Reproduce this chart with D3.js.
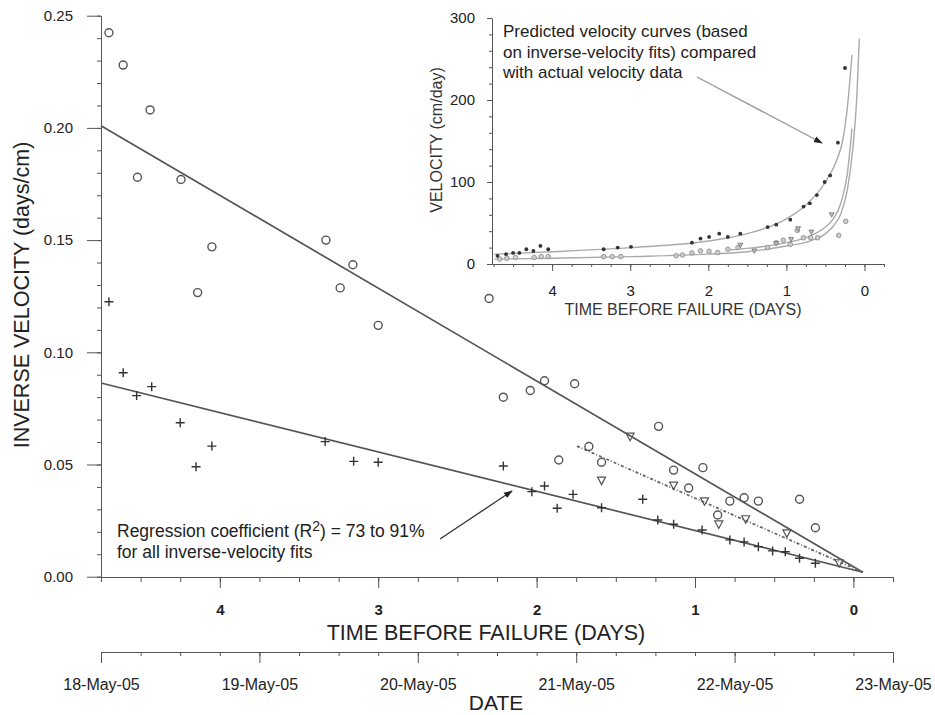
<!DOCTYPE html>
<html>
<head>
<meta charset="utf-8">
<script src="https://cdn.jsdelivr.net/npm/d3@7"></script>
<style>
  body { margin: 0; background: #fff; }
  svg { font-family: "Liberation Sans", Arial, sans-serif; }
  .axis path, .axis line { stroke: #555; }
  .axis text { fill: #222; }
</style>
</head>
<body>
<div id="chart"></div>
<script>
// ---- main chart data (days before failure, inverse velocity in days/cm)
const circleDays = [4.70, 4.61, 4.44, 4.52, 4.245, 4.05, 4.14, 3.33, 3.16, 3.24, 3.00, 2.30, 2.21, 2.04, 1.95, 1.76, 1.86, 1.67, 1.59, 1.23, 1.135, 0.95, 1.04, 0.857, 0.78, 0.69, 0.60, 0.34, 0.24];
const circleInv  = [0.2424, 0.228, 0.208, 0.178, 0.177, 0.147, 0.1266, 0.150, 0.139, 0.1287, 0.112, 0.124, 0.080, 0.083, 0.0873, 0.086, 0.052, 0.058, 0.051, 0.067, 0.0475, 0.0486, 0.0395, 0.0275, 0.0337, 0.0352, 0.0337, 0.0345, 0.0218];

const crossDays = [4.70, 4.61, 4.525, 4.43, 4.25, 4.05, 4.15, 3.335, 3.155, 3.00, 2.21, 2.03, 1.95, 1.87, 1.77, 1.59, 1.33, 1.235, 1.135, 0.955, 0.78, 0.69, 0.60, 0.51, 0.43, 0.34, 0.24];
const crossInv  = [0.1225, 0.0909, 0.0807, 0.0847, 0.0686, 0.0582, 0.049, 0.0602, 0.0514, 0.051, 0.0493, 0.0379, 0.0404, 0.0305, 0.0367, 0.0307, 0.0345, 0.0253, 0.0234, 0.0208, 0.0164, 0.0155, 0.0134, 0.0115, 0.0111, 0.0082, 0.006];

const triDays = [1.41, 1.59, 1.135, 0.94, 0.85, 0.68, 0.42, 0.09];
const triInv  = [0.0624, 0.0428, 0.0406, 0.0336, 0.0233, 0.0256, 0.0193, 0.006];

// regression lines (end points)
const fitCircleDays = [4.75, -0.06], fitCircleInv = [0.201, 0.002];
const fitCrossDays  = [4.75, -0.06], fitCrossInv  = [0.0863, 0.002];
const fitTriDays    = [1.745, -0.06], fitTriInv   = [0.0582, 0.002];

const dayTicks = [4, 3, 2, 1, 0];
const invTicks = [0, 0.05, 0.10, 0.15, 0.20, 0.25];
const dateStart = new Date(2005, 4, 18), dateEnd = new Date(2005, 4, 23);

// ---- inset data (velocity, cm/day)
const inDarkDays = [4.70, 4.59, 4.50, 4.42, 4.33, 4.24, 4.15, 4.05, 3.34, 3.16, 2.99, 2.21, 2.10, 1.99, 1.86, 1.75, 1.59, 1.24, 1.13, 0.95, 0.78, 0.70, 0.61, 0.51, 0.44, 0.34, 0.25];
const inDarkVel  = [10, 12, 13.5, 13.5, 18, 16, 22, 18, 18, 20, 21, 26, 31, 33, 37, 33, 37, 45, 48, 54, 70, 74, 84, 100, 108, 148, 239];

const inGreyDays = [4.67, 4.58, 4.47, 4.23, 4.14, 4.05, 3.34, 3.23, 3.12, 2.41, 2.33, 2.21, 2.10, 1.99, 1.88, 1.75, 1.62, 1.24, 1.13, 1.04, 0.95, 0.86, 0.78, 0.69, 0.60, 0.33, 0.24];
const inGreyVel  = [6, 7, 8, 8, 9, 9, 9, 9, 9, 10, 11, 13.5, 16, 15.5, 14, 18, 20, 20, 26, 29, 24, 41, 32, 32, 32, 35, 52];

const inTriDays = [1.59, 1.41, 1.13, 0.94, 0.85, 0.68, 0.42];
const inTriVel  = [23, 16, 25, 30, 43, 39, 60];

const curveTopDays = [4.74, 4.0, 3.0, 2.0, 1.5, 1.0, 0.75, 0.5, 0.35, 0.28, 0.22, 0.16];
const curveTopVel  = [12, 15, 20, 28, 37, 55, 72, 100, 128, 150, 190, 255];
const curveLowDays = [4.74, 4.0, 3.0, 2.0, 1.5, 1.0, 0.7, 0.5, 0.4, 0.3, 0.22, 0.15, 0.1, 0.066];
const curveLowVel  = [6, 7, 9, 12, 15, 22, 28, 37, 46, 62, 90, 140, 200, 275];
const curveMidDays = [1.75, 1.5, 1.0, 0.7, 0.5, 0.4, 0.3, 0.22, 0.16];
const curveMidVel  = [17, 19, 26, 34, 45, 55, 75, 110, 165];

const velTicks = [0, 100, 200, 300];

const W = 935, H = 715;
const svg = d3.select("#chart").append("svg").attr("width", W).attr("height", H);

svg.append("defs").append("marker")
  .attr("id", "head").attr("viewBox", "0 0 10 10").attr("refX", 9).attr("refY", 5)
  .attr("markerWidth", 9).attr("markerHeight", 9).attr("markerUnits", "userSpaceOnUse")
  .attr("orient", "auto")
  .append("path").attr("d", "M0,1.5L10,5L0,8.5Z").attr("fill", "#222");

// ---- main scales
const x = d3.scaleLinear().domain([4.75, -0.25]).range([101, 893]);
const y = d3.scaleLinear().domain([0, 0.25]).range([576.7, 15.7]);
const xDate = d3.scaleTime().domain([dateStart, dateEnd]).range([101, 893]);

// y axis
svg.append("g").attr("class", "axis").attr("transform", "translate(101,0)")
  .call(d3.axisLeft(y).tickValues(d3.range(0, 0.2501, 0.01)).tickSize(4).tickFormat(""))
  .call(g => g.select(".domain").remove());
svg.append("g").attr("class", "axis").attr("transform", "translate(101,0)")
  .call(d3.axisLeft(y).tickValues(invTicks).tickSize(14).tickSizeOuter(0).tickPadding(14).tickFormat(d3.format(".2f")))
  .call(g => g.selectAll("text").attr("font-size", 15));

// time axis
svg.append("g").attr("class", "axis").attr("transform", "translate(0,577)")
  .call(d3.axisBottom(x).tickValues(d3.range(-0.25, 4.76, 0.25)).tickSize(5).tickSizeOuter(0).tickFormat(""));
svg.append("g").attr("class", "axis").attr("transform", "translate(0,577)")
  .call(d3.axisBottom(x).tickValues(dayTicks).tickSize(11).tickPadding(16).tickFormat(d3.format("d")))
  .call(g => g.select(".domain").remove())
  .call(g => g.selectAll("text").attr("font-size", 15).attr("font-weight", "bold"));

// date axis
svg.append("g").attr("class", "axis").attr("transform", "translate(0,652)")
  .call(d3.axisBottom(xDate).ticks(d3.timeHour.every(6)).tickSize(4).tickSizeOuter(0).tickFormat(""));
svg.append("g").attr("class", "axis").attr("transform", "translate(0,652)")
  .call(d3.axisBottom(xDate).ticks(d3.timeDay.every(1)).tickSize(11).tickPadding(16).tickFormat(d3.timeFormat("%d-%b-%y")))
  .call(g => g.select(".domain").remove())
  .call(g => g.selectAll("text").attr("font-size", 16));

// axis titles
svg.append("text").attr("transform", "translate(29,295) rotate(-90)")
  .attr("text-anchor", "middle").attr("font-size", 21.5).attr("fill", "#222")
  .text("INVERSE VELOCITY (days/cm)");
svg.append("text").attr("x", 486).attr("y", 640).attr("text-anchor", "middle")
  .attr("font-size", 21.5).attr("fill", "#222").text("TIME BEFORE FAILURE (DAYS)");
svg.append("text").attr("x", 496).attr("y", 710).attr("text-anchor", "middle")
  .attr("font-size", 21).attr("fill", "#222").text("DATE");

// regression lines
const fitLine = (days, inv) => d3.line().x(d => x(d[0])).y(d => y(d[1]))(d3.zip(days, inv));
svg.append("path").attr("d", fitLine(fitCircleDays, fitCircleInv)).attr("stroke", "#555").attr("stroke-width", 1.7).attr("fill", "none");
svg.append("path").attr("d", fitLine(fitCrossDays, fitCrossInv)).attr("stroke", "#555").attr("stroke-width", 1.7).attr("fill", "none");
svg.append("path").attr("d", fitLine(fitTriDays, fitTriInv)).attr("stroke", "#666").attr("stroke-width", 1.8)
  .attr("stroke-dasharray", "3,2,1,2").attr("fill", "none");

// markers
svg.append("g").selectAll("circle").data(d3.zip(circleDays, circleInv)).join("circle")
  .attr("cx", d => x(d[0])).attr("cy", d => y(d[1])).attr("r", 4)
  .attr("fill", "none").attr("stroke", "#555").attr("stroke-width", 1.4);

svg.append("g").selectAll("path").data(d3.zip(crossDays, crossInv)).join("path")
  .attr("transform", d => `translate(${x(d[0])},${y(d[1])})`)
  .attr("d", "M-4.5,0H4.5M0,-4.5V4.5").attr("stroke", "#333").attr("stroke-width", 1.4);

svg.append("g").selectAll("path").data(d3.zip(triDays, triInv)).join("path")
  .attr("transform", d => `translate(${x(d[0])},${y(d[1])})`)
  .attr("d", "M-4,-3.5H4L0,4Z").attr("fill", "none").attr("stroke", "#555").attr("stroke-width", 1.2);

// annotation
svg.append("text").attr("x", 117).attr("y", 537).attr("font-size", 17.5).attr("fill", "#222")
  .call(t => {
    t.append("tspan").text("Regression coefficient (R");
    t.append("tspan").attr("dy", -6).attr("font-size", 14).text("2");
    t.append("tspan").attr("dy", 6).text(") = 73 to 91%");
  });
svg.append("text").attr("x", 117).attr("y", 558).attr("font-size", 17.5).attr("fill", "#222")
  .text("for all inverse-velocity fits");
svg.append("line").attr("x1", 440).attr("y1", 539).attr("x2", 512).attr("y2", 491)
  .attr("stroke", "#333").attr("stroke-width", 1.3).attr("marker-end", "url(#head)");

// ---- inset
const ix = d3.scaleLinear().domain([4.77, -0.25]).range([492, 884]);
const iy = d3.scaleLinear().domain([0, 300]).range([264, 18]);

svg.append("g").attr("class", "axis").attr("transform", "translate(492,0)")
  .call(d3.axisLeft(iy).tickValues(d3.range(0, 301, 20)).tickSize(3).tickFormat(""))
  .call(g => g.select(".domain").remove());
svg.append("g").attr("class", "axis").attr("transform", "translate(492,0)")
  .call(d3.axisLeft(iy).tickValues(velTicks).tickSize(5).tickSizeOuter(0).tickPadding(12))
  .call(g => g.selectAll("text").attr("font-size", 15).attr("fill", "#333"))
  .call(g => g.selectAll("path,line").attr("stroke", "#888"));
svg.append("g").attr("class", "axis").attr("transform", "translate(0,264)")
  .call(d3.axisBottom(ix).tickValues(d3.range(-0.25, 4.76, 0.25)).tickSize(3).tickSizeOuter(0).tickFormat(""))
  .call(g => g.selectAll("path,line").attr("stroke", "#888"));
svg.append("g").attr("class", "axis").attr("transform", "translate(0,264)")
  .call(d3.axisBottom(ix).tickValues(dayTicks).tickSize(7).tickPadding(14).tickFormat(d3.format("d")))
  .call(g => g.select(".domain").remove())
  .call(g => g.selectAll("line").attr("stroke", "#888"))
  .call(g => g.selectAll("text").attr("font-size", 15).attr("fill", "#333"));

svg.append("text").attr("transform", "translate(442,140) rotate(-90)")
  .attr("text-anchor", "middle").attr("font-size", 16).attr("fill", "#333").text("VELOCITY (cm/day)");
svg.append("text").attr("x", 683).attr("y", 315).attr("text-anchor", "middle")
  .attr("font-size", 16).attr("fill", "#333").text("TIME BEFORE FAILURE (DAYS)");

const iline = d3.line().x(d => ix(d[0])).y(d => iy(d[1])).curve(d3.curveMonotoneX);
[[curveTopDays, curveTopVel], [curveLowDays, curveLowVel], [curveMidDays, curveMidVel]].forEach(([dd, vv]) => {
  svg.append("path").attr("d", iline(d3.zip(dd, vv))).attr("fill", "none")
    .attr("stroke", "#aaa").attr("stroke-width", 1.4);
});

svg.append("g").selectAll("circle").data(d3.zip(inGreyDays, inGreyVel)).join("circle")
  .attr("cx", d => ix(d[0])).attr("cy", d => iy(d[1])).attr("r", 2.3)
  .attr("fill", "#ccc").attr("stroke", "#888").attr("stroke-width", 0.8);
svg.append("g").selectAll("path").data(d3.zip(inTriDays, inTriVel)).join("path")
  .attr("transform", d => `translate(${ix(d[0])},${iy(d[1])})`)
  .attr("d", "M-2.5,-2H2.5L0,2.5Z").attr("fill", "#bbb").attr("stroke", "#777").attr("stroke-width", 0.8);
svg.append("g").selectAll("circle").data(d3.zip(inDarkDays, inDarkVel)).join("circle")
  .attr("cx", d => ix(d[0])).attr("cy", d => iy(d[1])).attr("r", 1.9).attr("fill", "#333");

svg.append("text").attr("x", 503).attr("y", 37).attr("font-size", 17).attr("fill", "#222")
  .selectAll("tspan")
  .data(["Predicted velocity curves (based", "on inverse-velocity fits) compared", "with actual velocity data"])
  .join("tspan").attr("x", 503).attr("dy", (d, i) => i ? 20.5 : 0).text(d => d);
svg.append("line").attr("x1", 697).attr("y1", 77).attr("x2", 822).attr("y2", 143)
  .attr("stroke", "#999").attr("stroke-width", 1.4).attr("marker-end", "url(#head)");
</script>
</body>
</html>
